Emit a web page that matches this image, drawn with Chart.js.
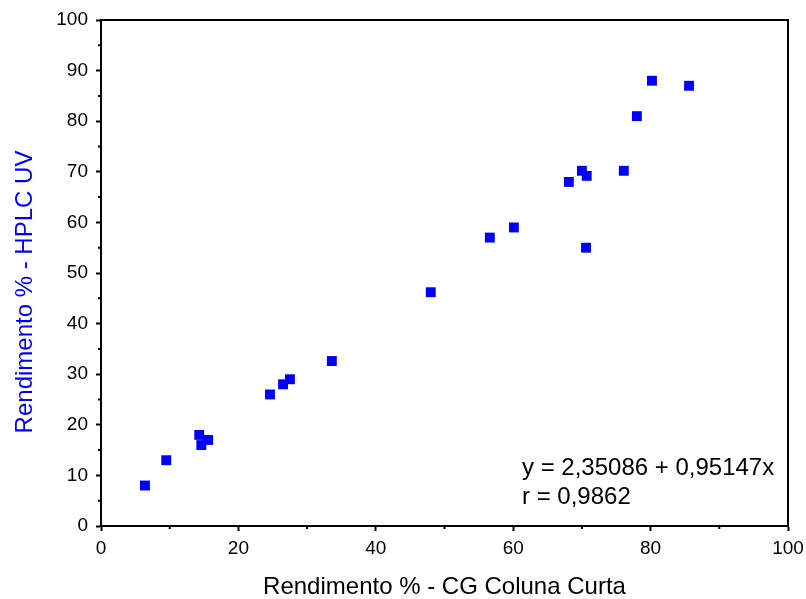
<!DOCTYPE html>
<html>
<head>
<meta charset="utf-8">
<script src="https://cdn.jsdelivr.net/npm/chart.js@4.4.1/dist/chart.umd.min.js"></script>
<style>
    html, body { margin: 0; padding: 0; background: #fff; }
    #wrap { width: 806px; height: 599px; }
</style>
</head>
<body>
<div id="wrap"><canvas id="chart" width="806" height="599"></canvas></div>
<script>
// Rendimento % - CG Coluna Curta (x) vs HPLC UV (y)
const cgValues = [6.4, 9.5, 14.3, 14.6, 15.6, 24.6, 26.5, 27.5, 33.6, 48.0, 56.6, 60.1, 68.1, 70.0, 70.7, 70.6, 76.1, 78.0, 80.2, 85.6];
const hplcValues = [8, 13, 18, 16, 17, 26, 28, 29, 32.6, 46.2, 57, 59, 68, 70.2, 69.2, 55, 70.2, 81, 88, 87];
const xTicks = [0, 20, 40, 60, 80, 100];
const yTicks = [0, 10, 20, 30, 40, 50, 60, 70, 80, 90, 100];
const fitLines = ['y = 2,35086 + 0,95147x', 'r = 0,9862'];
const yTitle = 'Rendimento % - HPLC UV';

const FONT = 'Liberation Sans, Arial, sans-serif';

// Frame, minor ticks, y title and fit text
const framePlugin = {
    id: 'frame',
    afterDraw(chart) {
        const { ctx, chartArea: a, scales } = chart;
        ctx.save();
        ctx.strokeStyle = '#000';
        ctx.lineWidth = 2;
        ctx.beginPath();
        ctx.moveTo(a.left, a.top);
        ctx.lineTo(a.right, a.top);
        ctx.lineTo(a.right, a.bottom);
        ctx.stroke();

        // minor ticks
        ctx.beginPath();
        for (let v = 10; v < 100; v += 20) {
            const px = scales.x.getPixelForValue(v);
            ctx.moveTo(px, a.bottom);
            ctx.lineTo(px, a.bottom + 3);
        }
        for (let v = 5; v < 100; v += 10) {
            const py = scales.y.getPixelForValue(v);
            ctx.moveTo(a.left, py);
            ctx.lineTo(a.left - 3, py);
        }
        ctx.stroke();

        ctx.fillStyle = '#000';
        ctx.font = '24px ' + FONT;
        ctx.textBaseline = 'middle';
        ctx.textAlign = 'left';
        ctx.fillText(fitLines[0], a.left + 421, a.top + 448);
        ctx.fillText(fitLines[1], a.left + 421, a.top + 477);

        // y axis title, a little below the axis centre like the original
        ctx.translate(25, a.top + 272);
        ctx.rotate(-Math.PI / 2);
        ctx.textAlign = 'center';
        ctx.fillStyle = '#0000ff';
        ctx.fillText(yTitle, 0, 0);
        ctx.restore();
    }
};

new Chart(document.getElementById('chart').getContext('2d'), {
    type: 'scatter',
    data: {
        datasets: [{
            data: cgValues.map((x, i) => ({ x: x, y: hplcValues[i] })),
            pointStyle: 'rect',
            pointRadius: 7,
            pointBorderWidth: 0,
            backgroundColor: '#0000ff',
            borderColor: '#0000ff'
        }]
    },
    options: {
        responsive: false,
        animation: false,
        layout: {
            padding: { top: 20, right: 18, left: 11, bottom: 0 }
        },
        plugins: {
            legend: { display: false },
            tooltip: { enabled: false }
        },
        scales: {
            x: {
                type: 'linear',
                min: 0,
                max: 100,
                afterBuildTicks: (scale) => { scale.ticks = xTicks.map(v => ({ value: v })); },
                afterFit: (scale) => {
                    scale.height = 73;
                    scale.paddingLeft = 0;
                    scale.paddingRight = 0;
                },
                ticks: {
                    color: '#000',
                    font: { family: FONT, size: 19 },
                    padding: 6
                },
                grid: {
                    drawOnChartArea: false,
                    tickLength: 5,
                    tickWidth: 2,
                    tickColor: '#000'
                },
                border: { color: '#000', width: 2 },
                title: {
                    display: true,
                    text: 'Rendimento % - CG Coluna Curta',
                    color: '#000',
                    font: { family: FONT, size: 24, lineHeight: 1 },
                    padding: { top: 4, bottom: 0 }
                }
            },
            y: {
                type: 'linear',
                min: 0,
                max: 100,
                afterBuildTicks: (scale) => { scale.ticks = yTicks.map(v => ({ value: v })); },
                afterFit: (scale) => {
                    scale.width = 90;
                    scale.paddingTop = 0;
                    scale.paddingBottom = 0;
                },
                ticks: {
                    color: '#000',
                    font: { family: FONT, size: 19 },
                    padding: 8
                },
                grid: {
                    drawOnChartArea: false,
                    tickLength: 5,
                    tickWidth: 2,
                    tickColor: '#000'
                },
                border: { color: '#000', width: 2 }
            }
        }
    },
    plugins: [framePlugin]
});
</script>
</body>
</html>
